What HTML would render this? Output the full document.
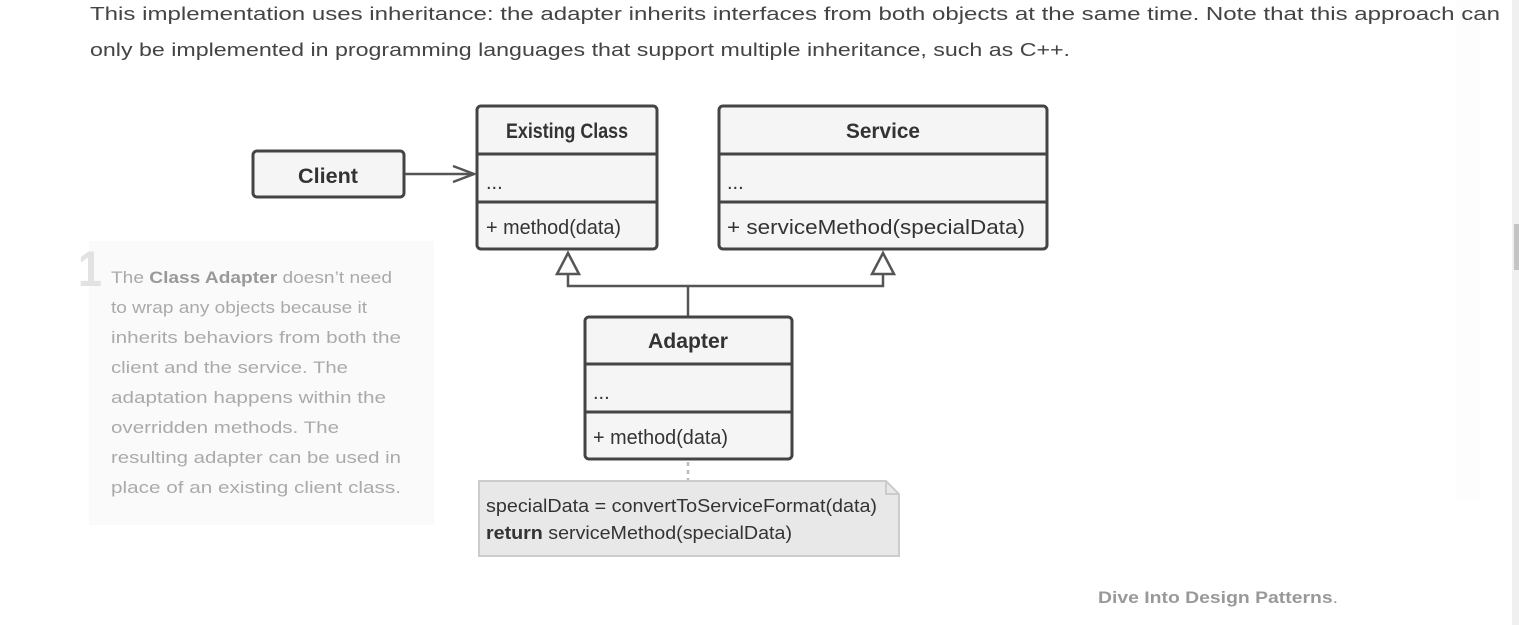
<!DOCTYPE html>
<html><head><meta charset="utf-8"><style>
html,body{margin:0;padding:0;background:#fff;width:1519px;height:625px;overflow:hidden}
svg{display:block}
text{font-family:"Liberation Sans",sans-serif}
</style></head><body>
<svg width="1519" height="625" viewBox="0 0 1519 625" xmlns="http://www.w3.org/2000/svg">
<rect x="1512" y="0" width="7" height="625" fill="#f0f0f0"/>
<rect x="1514" y="224" width="5" height="46" fill="#c4c4c4"/>
<rect x="1456" y="0" width="24" height="500" fill="#fdfdfd"/>
<g fill="#444" font-size="18">
<text x="90" y="20" textLength="1410" lengthAdjust="spacingAndGlyphs">This implementation uses inheritance: the adapter inherits interfaces from both objects at the same time. Note that this approach can</text>
<text x="90" y="56" textLength="980" lengthAdjust="spacingAndGlyphs">only be implemented in programming languages that support multiple inheritance, such as C++.</text>
</g>
<rect x="89" y="241" width="345" height="284" fill="#fafafa"/>
<text x="78" y="286" font-size="50" font-weight="bold" fill="#e2e2e2" textLength="24" lengthAdjust="spacingAndGlyphs">1</text>
<g fill="#aaa" font-size="17">
<text x="111" y="283" textLength="281" lengthAdjust="spacingAndGlyphs">The <tspan font-weight="bold" fill="#999">Class Adapter</tspan> doesn’t need</text>
<text x="111" y="313" textLength="256" lengthAdjust="spacingAndGlyphs">to wrap any objects because it</text>
<text x="111" y="343" textLength="290" lengthAdjust="spacingAndGlyphs">inherits behaviors from both the</text>
<text x="111" y="373" textLength="237" lengthAdjust="spacingAndGlyphs">client and the service. The</text>
<text x="111" y="403" textLength="275" lengthAdjust="spacingAndGlyphs">adaptation happens within the</text>
<text x="111" y="433" textLength="228" lengthAdjust="spacingAndGlyphs">overridden methods. The</text>
<text x="111" y="463" textLength="290" lengthAdjust="spacingAndGlyphs">resulting adapter can be used in</text>
<text x="111" y="493" textLength="290" lengthAdjust="spacingAndGlyphs">place of an existing client class.</text>
</g>
<g stroke="#444" stroke-width="3" fill="#f5f5f5">
<rect x="253" y="151" width="151" height="46" rx="4"/>
<rect x="477" y="106" width="180" height="143" rx="4"/>
<rect x="719" y="106" width="328" height="143" rx="4"/>
<rect x="585" y="317" width="207" height="142" rx="4"/>
</g>
<g stroke="#444" stroke-width="3">
<line x1="477" y1="154" x2="657" y2="154"/><line x1="477" y1="202" x2="657" y2="202"/>
<line x1="719" y1="154" x2="1047" y2="154"/><line x1="719" y1="202" x2="1047" y2="202"/>
<line x1="585" y1="364" x2="792" y2="364"/><line x1="585" y1="412" x2="792" y2="412"/>
</g>
<g stroke="#555" stroke-width="2.5" fill="none">
<line x1="405" y1="174" x2="474" y2="174"/>
<polyline points="453,166 474,174 453,182"/>
<polyline points="568,274 568,286 883,286 883,274"/>
<line x1="688" y1="286" x2="688" y2="316"/>
<polygon points="568,253 557,274 579,274" fill="#fff"/>
<polygon points="883,253 872,274 894,274" fill="#fff"/>
</g>
<line x1="688" y1="462" x2="688" y2="480" stroke="#bbb" stroke-width="2.5" stroke-dasharray="4,4"/>
<path d="M479,481 H886 L899,494 V556 H479 Z" fill="#e8e8e8" stroke="#ccc" stroke-width="2"/>
<path d="M886,481 V494 H899" fill="none" stroke="#ccc" stroke-width="2"/>
<g fill="#333" font-size="21">
<text x="328" y="183" text-anchor="middle" font-weight="bold" textLength="60" lengthAdjust="spacingAndGlyphs">Client</text>
<text x="567" y="138" text-anchor="middle" font-weight="bold" textLength="122" lengthAdjust="spacingAndGlyphs">Existing Class</text>
<text x="883" y="138" text-anchor="middle" font-weight="bold" textLength="74" lengthAdjust="spacingAndGlyphs">Service</text>
<text x="688" y="348" text-anchor="middle" font-weight="bold" textLength="80" lengthAdjust="spacingAndGlyphs">Adapter</text>
</g>
<g fill="#333" font-size="20">
<text x="486" y="189">...</text>
<text x="727" y="189">...</text>
<text x="593" y="399">...</text>
<text x="486" y="234" textLength="135" lengthAdjust="spacingAndGlyphs">+ method(data)</text>
<text x="727" y="234" textLength="298" lengthAdjust="spacingAndGlyphs">+ serviceMethod(specialData)</text>
<text x="593" y="444" textLength="135" lengthAdjust="spacingAndGlyphs">+ method(data)</text>
</g>
<g fill="#333" font-size="18">
<text x="486" y="512" textLength="391" lengthAdjust="spacingAndGlyphs">specialData = convertToServiceFormat(data)</text>
<text x="486" y="539" textLength="306" lengthAdjust="spacingAndGlyphs"><tspan font-weight="bold">return</tspan> serviceMethod(specialData)</text>
</g>
<text x="1098" y="603" font-size="17" font-weight="bold" fill="#999" textLength="240" lengthAdjust="spacingAndGlyphs">Dive Into Design Patterns<tspan font-weight="normal">.</tspan></text>
</svg>
</body></html>
